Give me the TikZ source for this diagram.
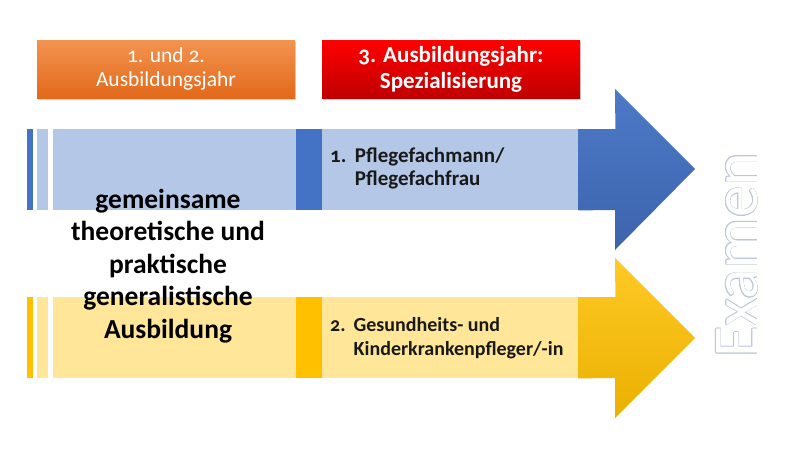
\documentclass[tikz,border=0pt]{standalone}
\usepackage{fontspec}
\setmainfont{Carlito}[Numbers=OldStyle]
\usetikzlibrary{positioning,shadows}
\definecolor{blueLight}{HTML}{B4C7E7}
\definecolor{blueDark}{HTML}{4472C4}
\definecolor{yellowLight}{HTML}{FFE699}
\definecolor{yellowDark}{HTML}{FFC000}
\definecolor{orangeTop}{HTML}{F39350}
\definecolor{orangeBot}{HTML}{E2691A}
\definecolor{examLine}{HTML}{BCC6DA}
\tikzset{
yearbox/.style={rectangle,minimum width=258pt,minimum height=58pt,inner sep=2pt,
align=center,text=white,drop shadow={opacity=0.35,shadow xshift=1pt,shadow yshift=-1.5pt}},
band/.style={rectangle,minimum height=81pt,inner sep=0pt,anchor=north west},
item/.style={align=left,anchor=north west,inner sep=0pt,text=black!90}
}

\begin{document}
\begin{tikzpicture}[x=1pt,y=-1pt]
\useasboundingbox (0,0) rectangle (800,450);

% Jahre
\node[yearbox,top color=orangeTop,bottom color=orangeBot,font=\fontsize{21.5}{24}\selectfont] (jahrA) at (166,69) {1. und 2.\\Ausbildungsjahr};
\node[yearbox,top color=red,bottom color=red!75!black,font=\fontsize{23}{26}\selectfont\bfseries] (jahrB) at (451,69) {3. Ausbildungsjahr:\\Spezialisierung};

% blaue Zeile
\node[band,minimum width=6pt,fill=blueDark] (bS1) at (27,129) {};
\node[band,minimum width=11pt,fill=blueLight] (bS2) at (37,129) {};
\node[band,minimum width=243pt,fill=blueLight] (bA) at (53,129) {};
\node[band,minimum width=26pt,fill=blueDark] (bB) at (296,129) {};
\node[band,minimum width=256pt,fill=blueLight] (bC) at (322,129) {};
\coordinate (bTip) at (695,169);
\shade[top color=blueDark!95!white,bottom color=blueDark!88!black]
(bC.north east) -- ++(37,0) -- (615,89) -- (bTip) -- (615,250) -- (615,210) -- (bC.south east) -- cycle;

% gelbe Zeile
\node[band,minimum width=6pt,fill=yellowDark] (yS1) at (27,297) {};
\node[band,minimum width=11pt,fill=yellowLight] (yS2) at (37,297) {};
\node[band,minimum width=243pt,fill=yellowLight] (yA) at (53,297) {};
\node[band,minimum width=26pt,fill=yellowDark] (yB) at (296,297) {};
\node[band,minimum width=256pt,fill=yellowLight] (yC) at (322,297) {};
\coordinate (yTip) at (695,338);
\shade[top color=yellowDark!85!white,bottom color=yellowDark!92!black]
(yC.north east) -- ++(37,0) -- (615,258) -- (yTip) -- (615,418) -- (615,378) -- (yC.south east) -- cycle;

% Texte
\node[align=center,font=\fontsize{27.5}{32.5}\selectfont\bfseries] (gemein) at (168,266)
{gemeinsame\\theoretische und\\praktische\\generalistische\\Ausbildung};
\node[item,font=\fontsize{21}{23}\selectfont\bfseries] (pflege) at (330,148)
{1.\hspace{0.4em}Pflegefachmann/\\\hphantom{1.}\hspace{0.4em}Pflegefachfrau};
\node[item,font=\fontsize{20}{24}\selectfont\bfseries] (kinder) at (330,317)
{2.\hspace{0.4em}Gesundheits- und\\\hphantom{2.}\hspace{0.4em}Kinderkrankenpfleger/-in};

% Examen
\foreach \a in {0,30,...,330}
  \node[rotate=90,text=examLine,font=\fontsize{64}{64}\selectfont,shift={(\a:0.55pt)}] at (737,255) {Examen};
\node[rotate=90,text=white,font=\fontsize{64}{64}\selectfont] (examen) at (737,255) {Examen};

\end{tikzpicture}
\end{document}
